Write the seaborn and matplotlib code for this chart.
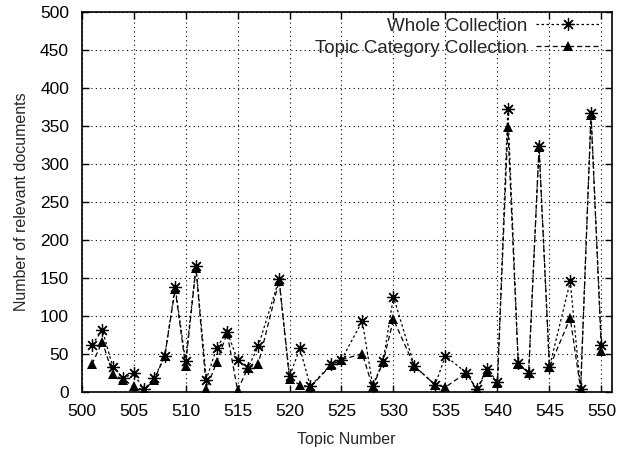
import matplotlib
matplotlib.use("Agg")
import matplotlib.pyplot as plt
import seaborn as sns
import pandas as pd

# topics present in the run (518, 523, 526, 531, 533, 536, 546 have no entries)
topics = [501, 502, 503, 504, 505, 506, 507, 508, 509, 510,
          511, 512, 513, 514, 515, 516, 517, 519, 520,
          521, 522, 524, 525, 527, 528, 529, 530,
          532, 534, 535, 537, 538, 539, 540,
          541, 542, 543, 544, 545, 547, 548, 549, 550]
whole = [62, 81, 33, 18, 24, 3, 18, 47, 138, 40,
         165, 16, 58, 79, 42, 31, 60, 148, 20,
         57, 7, 36, 42, 93, 8, 40, 125,
         34, 9, 47, 25, 3, 30, 13,
         372, 38, 25, 323, 32, 145, 3, 367, 61]
topic_cat = [36, 66, 23, 16, 7, 2, 16, 47, 135, 34,
             163, 4, 39, 77, 2, 31, 37, 146, 17,
             9, 6, 35, 42, 50, 6, 39, 95,
             34, 9, 6, 25, 3, 26, 12,
             348, 36, 25, 322, 32, 97, 3, 364, 53]

df = pd.DataFrame({"topic": topics, "whole": whole, "cat": topic_cat})

sns.set_style("ticks")
plt.rcParams["font.family"] = ["Liberation Sans", "DejaVu Sans"]

fig = plt.figure(figsize=(6.18, 4.5), dpi=100)
ax = fig.add_axes([0.132, 0.1296, 0.858, 0.8444])

sns.lineplot(data=df, x="topic", y="whole", ax=ax, color="black", lw=0.9,
             linestyle=(0, (2, 2)), marker=(8, 2, 0), markersize=9,
             markeredgecolor="black", markeredgewidth=0.9,
             label="Whole Collection")
sns.lineplot(data=df, x="topic", y="cat", ax=ax, color="black", lw=0.9,
             linestyle=(0, (4, 2.5)), marker="^", markersize=6.5,
             markeredgecolor="black", markeredgewidth=0,
             label="Topic Category Collection")

ax.set_xlim(500, 551)
ax.set_ylim(0, 500)
ax.set_xticks(range(500, 551, 5))
ax.set_yticks(range(0, 501, 50))
ax.grid(True, color="black", linestyle=(0, (1, 3)), lw=0.8)
ax.tick_params(direction="in", top=True, right=True, length=5, width=1,
               labelsize=12.5, colors="black", pad=9)
for s in ax.spines.values():
    s.set_linewidth(1.2)
    s.set_color("black")

ax.set_xlabel("Topic Number", fontsize=11.5, labelpad=9)
ax.set_ylabel("Number of relevant documents", fontsize=11.5, labelpad=8)

leg = ax.legend(loc="upper right", bbox_to_anchor=(0.992, 1.004),
                frameon=False, markerfirst=False, fontsize=13.5,
                handlelength=3.4, borderaxespad=0, labelspacing=0.25,
                handletextpad=0.5)

fig.savefig("out.png", dpi=100)
